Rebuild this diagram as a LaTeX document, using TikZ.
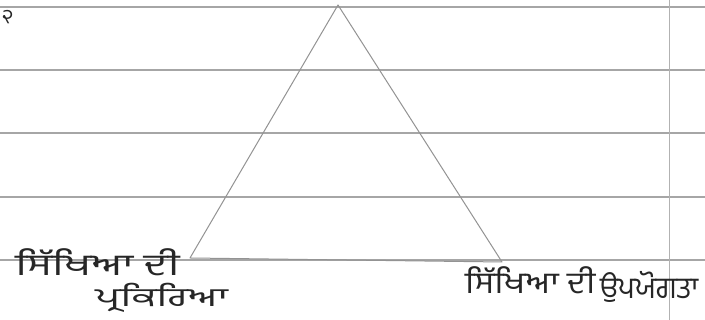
\documentclass[tikz,border=0pt]{standalone}
\usepackage{fontspec}
\newfontfamily\gurfont[Script=Gurmukhi]{Hind Jalandhar}
\begin{document}
\begin{tikzpicture}[x=1pt,y=1pt,
  rule/.style={draw=gray!70, line width=1.2pt},
  tri/.style={draw=gray!85, line width=1pt, line join=round},
  lbl/.style={font=\gurfont\fontsize{30}{32}\selectfont, text=black!85, inner sep=0pt}]
\useasboundingbox (0,0) rectangle (705,320);
\fill[white] (0,0) rectangle (705,320);
% ruled lines
\foreach \y in {313,250,187,123,60} {\draw[rule] (0,\y) -- (705,\y);}
\draw[draw=gray!60, line width=1pt] (669,320) -- (669,0);
% triangle
\coordinate (apex) at (338,315);
\coordinate (bl) at (190,62);
\coordinate (br) at (502,58);
\draw[tri] (apex) -- (bl) -- (br) -- cycle;
% labels
\node[lbl, anchor=west, font=\gurfont\fontsize{20}{22}\selectfont] (n0) at (2,303) {੨};
\node[lbl, anchor=west, xscale=1.45] (l1) at (15,58) {ਸਿੱਖਿਆ ਦੀ};
\node[lbl, anchor=west, xscale=1.6, font=\gurfont\fontsize{26}{28}\selectfont] (l2) at (95,22) {ਪ੍ਰਕਿਰਿਆ};
\node[lbl, anchor=west, xscale=1.15] (r1) at (465,40) {ਸਿੱਖਿਆ ਦੀ};
\node[lbl, anchor=west, xscale=0.95] (r2) at (600,33) {ਉਪਯੋਗਤਾ};
\end{tikzpicture}
\end{document}
